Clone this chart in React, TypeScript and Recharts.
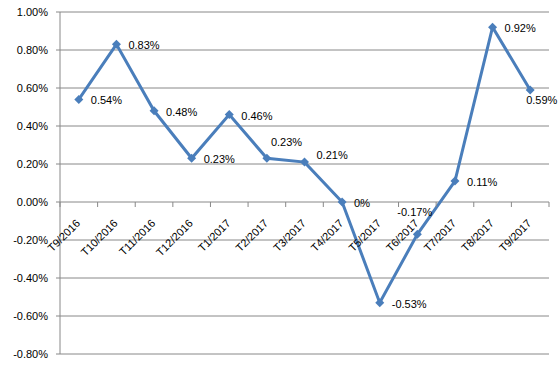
import * as Recharts from "recharts";
import { LineChart, Line, XAxis, YAxis, CartesianGrid, LabelList } from "recharts";

const months = [
  "T9/2016", "T10/2016", "T11/2016", "T12/2016", "T1/2017", "T2/2017", "T3/2017",
  "T4/2017", "T5/2017", "T6/2017", "T7/2017", "T8/2017", "T9/2017",
];
const rates = [0.54, 0.83, 0.48, 0.23, 0.46, 0.23, 0.21, 0, -0.53, -0.17, 0.11, 0.92, 0.59];
const yTicks = [-0.8, -0.6, -0.4, -0.2, 0, 0.2, 0.4, 0.6, 0.8, 1.0];

const data = months.map((name, i) => ({ name, rate: rates[i] }));

const W = 560;
const H = 369;
const Y_AXIS_W = 60;
const X_AXIS_H = 2;
const margin = { top: 12, right: 11, bottom: 13, left: 0 };
const yMin = yTicks[0];
const yMax = yTicks[yTicks.length - 1];
const GRID = "#888888";
const BLUE = "#4A7EBB";

// Excel-style: category labels hang under the 0% line, not at the bottom
function XTick(props: any) {
  const { x, payload, index } = props;
  const hook = (Recharts as any).usePlotArea;
  const area = typeof hook === "function" ? hook() : null;
  const plot = area ?? {
    x: Y_AXIS_W,
    y: margin.top,
    width: W - Y_AXIS_W - margin.right - margin.left,
    height: H - margin.top - margin.bottom - X_AXIS_H,
  };
  const zeroY = plot.y + (plot.height * yMax) / (yMax - yMin);
  const band = plot.width / months.length;
  const tx = x + 2;
  const ty = zeroY + 22;
  return (
    <g>
      <line x1={x - band / 2} x2={x - band / 2} y1={zeroY} y2={zeroY + 5} stroke={GRID} />
      {index === months.length - 1 && (
        <line x1={x + band / 2} x2={x + band / 2} y1={zeroY} y2={zeroY + 5} stroke={GRID} />
      )}
      <text x={tx} y={ty} transform={`rotate(-45 ${tx} ${ty})`} textAnchor="end" fontSize={11} fill="#000">
        {payload.value}
      </text>
    </g>
  );
}

function Diamond(props: any) {
  const { cx, cy } = props;
  if (cx == null || cy == null) return null;
  const r = 4.5;
  return <path d={`M${cx},${cy - r}L${cx + r},${cy}L${cx},${cy + r}L${cx - r},${cy}Z`} fill={BLUE} />;
}

// a few labels are nudged off the line like in the original
const labelShift: Record<number, [number, number]> = {
  5: [4, -16],
  6: [12, -7],
  9: [-20, -22],
  12: [-4, 10],
};

function PointLabel(props: any) {
  const { x, y, value, index } = props;
  const [dx, dy] = labelShift[index] ?? [12, 1];
  return (
    <text x={x + dx} y={y + dy} dominantBaseline="central" fontSize={11} fill="#000">
      {`${value}%`}
    </text>
  );
}

export default function App() {
  return (
    <div
      style={{
        width: W,
        height: H + 1,
        borderBottom: `1px solid ${GRID}`,
        fontFamily: "'Liberation Sans', Arial, sans-serif",
        background: "#fff",
      }}
    >
      <style>{`body{margin:0}`}</style>
      <LineChart width={W} height={H} data={data} margin={margin}>
        <CartesianGrid vertical={false} stroke={GRID} />
        <XAxis
          dataKey="name"
          scale="band"
          height={X_AXIS_H}
          axisLine={false}
          tickLine={false}
          interval={0}
          tick={<XTick />}
        />
        <YAxis
          width={Y_AXIS_W}
          domain={[yMin, yMax]}
          ticks={yTicks}
          interval={0}
          tickFormatter={(v: number) => `${v.toFixed(2)}%`}
          axisLine={{ stroke: GRID }}
          tickLine={{ stroke: GRID }}
          tickSize={4}
          tickMargin={8}
          tick={{ fontSize: 11, fill: "#000" }}
        />
        <Line
          type="linear"
          dataKey="rate"
          stroke={BLUE}
          strokeWidth={3}
          dot={(p: any) => <Diamond key={p.index} {...p} />}
          activeDot={false}
          isAnimationActive={false}
        >
          <LabelList dataKey="rate" content={(p: any) => <PointLabel {...p} />} />
        </Line>
      </LineChart>
    </div>
  );
}
